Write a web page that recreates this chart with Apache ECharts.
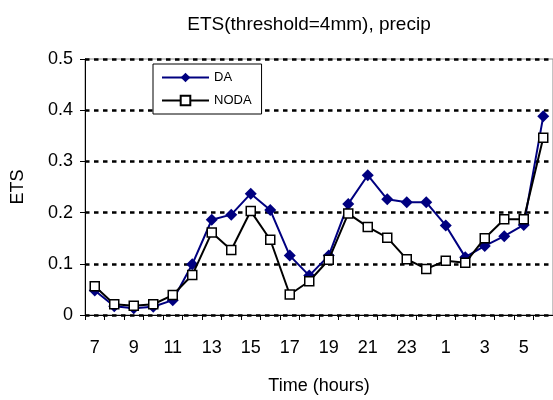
<!DOCTYPE html>
<html>
<head>
<meta charset="utf-8">
<script src="https://cdn.jsdelivr.net/npm/echarts@6/dist/echarts.min.js"></script>
<style>html,body{margin:0;padding:0;background:#fff;}#c{width:553px;height:400px;}</style>
</head>
<body>
<div id="c"></div>
<script>
const categories = ['7','8','9','10','11','12','13','14','15','16','17','18','19','20','21','22','23','0','1','2','3','4','5','6'];
const daValues = [0.048, 0.017, 0.013, 0.016, 0.029, 0.099, 0.186, 0.196, 0.237, 0.205, 0.116, 0.077, 0.116, 0.217, 0.273, 0.226, 0.220, 0.220, 0.175, 0.113, 0.135, 0.154, 0.176, 0.388];
const nodaValues = [0.056, 0.021, 0.018, 0.021, 0.039, 0.078, 0.161, 0.127, 0.203, 0.147, 0.040, 0.066, 0.108, 0.198, 0.172, 0.151, 0.109, 0.090, 0.106, 0.102, 0.150, 0.187, 0.187, 0.346];
const yTicks = [0, 0.1, 0.2, 0.3, 0.4, 0.5];

const font = 'Liberation Sans, Arial, sans-serif';
const chart = echarts.init(document.getElementById('c'), null, {renderer: 'canvas'});
chart.setOption({
  animation: false,
  backgroundColor: '#fff',
  title: {
    text: 'ETS(threshold=4mm), precip',
    left: 304, top: 10, textAlign: 'center',
    textStyle: {fontFamily: font, fontSize: 19, fontWeight: 'normal', color: '#000'}
  },
  legend: {
    orient: 'vertical', left: 153, top: 64,
    itemWidth: 47, itemHeight: 12, itemGap: 10,
    padding: [7, 10, 7, 8],
    borderColor: '#000', borderWidth: 1, backgroundColor: '#fff',
    textStyle: {fontFamily: font, fontSize: 13, color: '#000'},
    data: ['DA', 'NODA']
  },
  grid: {
    left: 85, top: 59, width: 470, height: 259,
    show: true, borderColor: '#888', borderWidth: 1, backgroundColor: 'transparent'
  },
  xAxis: {
    type: 'category', data: categories, boundaryGap: true,
    name: 'Time (hours)', nameLocation: 'middle', nameGap: 62,
    nameTextStyle: {fontFamily: font, fontSize: 18, color: '#000'},
    axisLine: {lineStyle: {color: '#000', width: 1}},
    axisTick: {show: true, interval: 0, length: 5, inside: false, lineStyle: {color: '#000'}},
    axisLabel: {interval: 1, margin: 24, fontFamily: font, fontSize: 18, color: '#000'},
    splitLine: {show: false}
  },
  yAxis: {
    type: 'value', min: 0, max: 0.5, interval: 0.1,
    name: 'ETS', nameLocation: 'middle', nameGap: 58, nameRotate: 90,
    nameTextStyle: {fontFamily: font, fontSize: 18, color: '#000'},
    axisLine: {show: true, lineStyle: {color: '#000', width: 1}},
    axisTick: {show: true, length: 5, lineStyle: {color: '#000'}},
    axisLabel: {margin: 12, fontFamily: font, fontSize: 18, color: '#000',
      formatter: v => String(yTicks.find(t => Math.abs(t - v) < 1e-9) ?? v)},
    splitLine: {show: true, lineStyle: {color: '#000', width: 2.6, type: [4.5, 4.5]}}
  },
  series: [
    {
      name: 'DA', type: 'line', data: daValues,
      symbol: 'diamond', symbolSize: 12,
      lineStyle: {color: '#000080', width: 2},
      itemStyle: {color: '#000080', borderColor: '#000080', borderWidth: 0},
      z: 2
    },
    {
      name: 'NODA', type: 'line', data: nodaValues,
      symbol: 'rect', symbolSize: 9,
      lineStyle: {color: '#000', width: 2},
      itemStyle: {color: '#fff', borderColor: '#000', borderWidth: 1.5},
      z: 3
    }
  ]
});
</script>
</body>
</html>
